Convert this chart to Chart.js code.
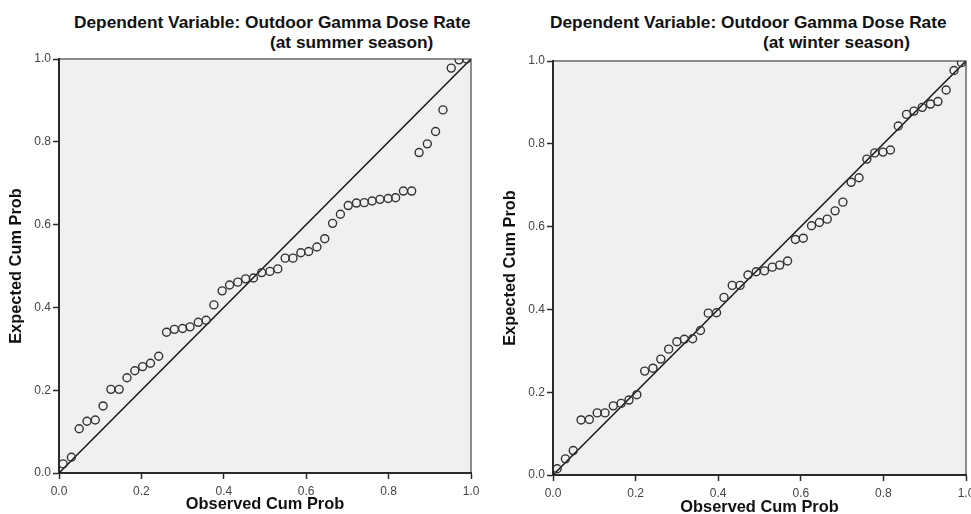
<!DOCTYPE html>
<html>
<head>
<meta charset="utf-8">
<script src="https://cdn.jsdelivr.net/npm/chart.js@4.4.0/dist/chart.umd.min.js"></script>
<style>
  html, body { margin: 0; padding: 0; background: #fff; overflow: hidden; }
  body { width: 971px; height: 514px; position: relative; font-family: 'Liberation Sans', Arial, sans-serif; }
  .box { position: absolute; top: 0; }
  .title { position: absolute; font-weight: bold; font-size: 17.3px; line-height: 17px; white-space: nowrap; color: #111; }
</style>
</head>
<body>
<div class="title" style="left:74px;top:14px">Dependent Variable: Outdoor Gamma Dose Rate</div>
<div class="title" style="left:270px;top:34px">(at summer season)</div>
<div class="title" style="left:550px;top:14px">Dependent Variable: Outdoor Gamma Dose Rate</div>
<div class="title" style="left:763px;top:34px">(at winter season)</div>

<div class="box" style="left:0;width:485px;height:514px"><canvas id="summer"></canvas></div>
<div class="box" style="left:494px;width:492px;height:517px"><canvas id="winter"></canvas></div>

<script>
// observed cumulative probability (same for both seasons)
const observedProb = [0.010, 0.030, 0.049, 0.068, 0.088, 0.107, 0.126, 0.146, 0.165, 0.184,
  0.203, 0.222, 0.242, 0.261, 0.280, 0.300, 0.318, 0.338, 0.357, 0.376,
  0.396, 0.414, 0.434, 0.453, 0.472, 0.492, 0.512, 0.531, 0.549, 0.568,
  0.587, 0.606, 0.626, 0.645, 0.664, 0.683, 0.702, 0.722, 0.741, 0.760,
  0.779, 0.799, 0.817, 0.836, 0.856, 0.874, 0.894, 0.914, 0.932, 0.952,
  0.971, 0.989];

const summerExpected = [0.022, 0.038, 0.107, 0.125, 0.128, 0.162, 0.202, 0.202, 0.230, 0.247,
  0.257, 0.265, 0.282, 0.340, 0.347, 0.349, 0.353, 0.364, 0.369, 0.406,
  0.440, 0.454, 0.461, 0.469, 0.471, 0.484, 0.487, 0.493, 0.519, 0.519,
  0.532, 0.535, 0.546, 0.566, 0.603, 0.625, 0.646, 0.652, 0.653, 0.657,
  0.661, 0.663, 0.665, 0.681, 0.681, 0.774, 0.795, 0.825, 0.877, 0.978,
  0.998, 1.000];

const winterExpected = [0.015, 0.039, 0.059, 0.133, 0.134, 0.150, 0.150, 0.167, 0.173, 0.181,
  0.194, 0.251, 0.258, 0.280, 0.304, 0.322, 0.328, 0.329, 0.349, 0.391,
  0.392, 0.429, 0.458, 0.458, 0.483, 0.491, 0.493, 0.502, 0.507, 0.517,
  0.569, 0.572, 0.602, 0.610, 0.618, 0.638, 0.659, 0.707, 0.718, 0.763,
  0.778, 0.780, 0.785, 0.843, 0.871, 0.879, 0.888, 0.896, 0.902, 0.930,
  0.977, 0.996];

// 45 degree reference line
const diagonalX = [0, 1];
const diagonalY = [0, 1];

const axisTicks = [0, 0.2, 0.4, 0.6, 0.8, 1.0];

const FONT = "'Liberation Sans', Arial, sans-serif";

// grey plot background with a thin frame on top and right
const plotFrame = {
  id: 'plotFrame',
  beforeDraw(chart) {
    const { ctx, chartArea: a } = chart;
    ctx.save();
    ctx.fillStyle = '#f0f0f0';
    ctx.fillRect(a.left, a.top, a.width, a.height);
    ctx.strokeStyle = '#6a6a6a';
    ctx.lineWidth = 1.5;
    ctx.beginPath();
    ctx.moveTo(a.left, a.top);
    ctx.lineTo(a.right, a.top);
    ctx.lineTo(a.right, a.bottom);
    ctx.stroke();
    ctx.restore();
  }
};

function axis(titleText, titlePad, size, horizontal) {
  return {
    type: 'linear',
    min: 0,
    max: 1,
    afterBuildTicks: s => { s.ticks = axisTicks.map(v => ({ value: v })); },
    afterFit: s => { if (horizontal) s.height = size; else s.width = size; },
    border: { display: true, color: '#2a2a2a', width: 2 },
    grid: { drawOnChartArea: false, drawTicks: true, tickLength: 6, tickColor: '#2a2a2a', tickWidth: 1.5 },
    ticks: {
      padding: horizontal ? 5 : 2,
      color: '#444',
      font: { family: FONT, size: 12 },
      maxRotation: 0,
      callback: v => Number(v).toFixed(1)
    },
    title: {
      display: true,
      text: titleText,
      color: '#111',
      font: { family: FONT, size: 16.4, weight: 'bold' },
      padding: titlePad
    }
  };
}

function ppPlot(id, expected, pad, xHeight) {
  new Chart(document.getElementById(id), {
    type: 'scatter',
    data: {
      datasets: [
        {
          data: observedProb.map((x, i) => ({ x, y: expected[i] })),
          pointStyle: 'circle',
          pointRadius: 4,
          backgroundColor: 'rgba(0,0,0,0)',
          borderColor: '#333',
          borderWidth: 1.4
        },
        {
          type: 'line',
          data: diagonalX.map((x, i) => ({ x, y: diagonalY[i] })),
          borderColor: '#151515',
          borderWidth: 1.5,
          pointRadius: 0,
          fill: false
        }
      ]
    },
    options: {
      responsive: true,
      maintainAspectRatio: false,
      animation: false,
      layout: { padding: pad },
      plugins: { legend: { display: false }, tooltip: { enabled: false } },
      scales: {
        x: axis('Observed Cum Prob', { top: 0, bottom: 0 }, xHeight, true),
        y: axis('Expected Cum Prob', { top: 7, bottom: 0 }, 59, false)
      }
    },
    plugins: [plotFrame]
  });
}

ppPlot('summer', summerExpected, { top: 59, right: 14, bottom: 0, left: 0 }, 41);
ppPlot('winter', winterExpected, { top: 61, right: 20, bottom: 0, left: 0 }, 42);
</script>
</body>
</html>
